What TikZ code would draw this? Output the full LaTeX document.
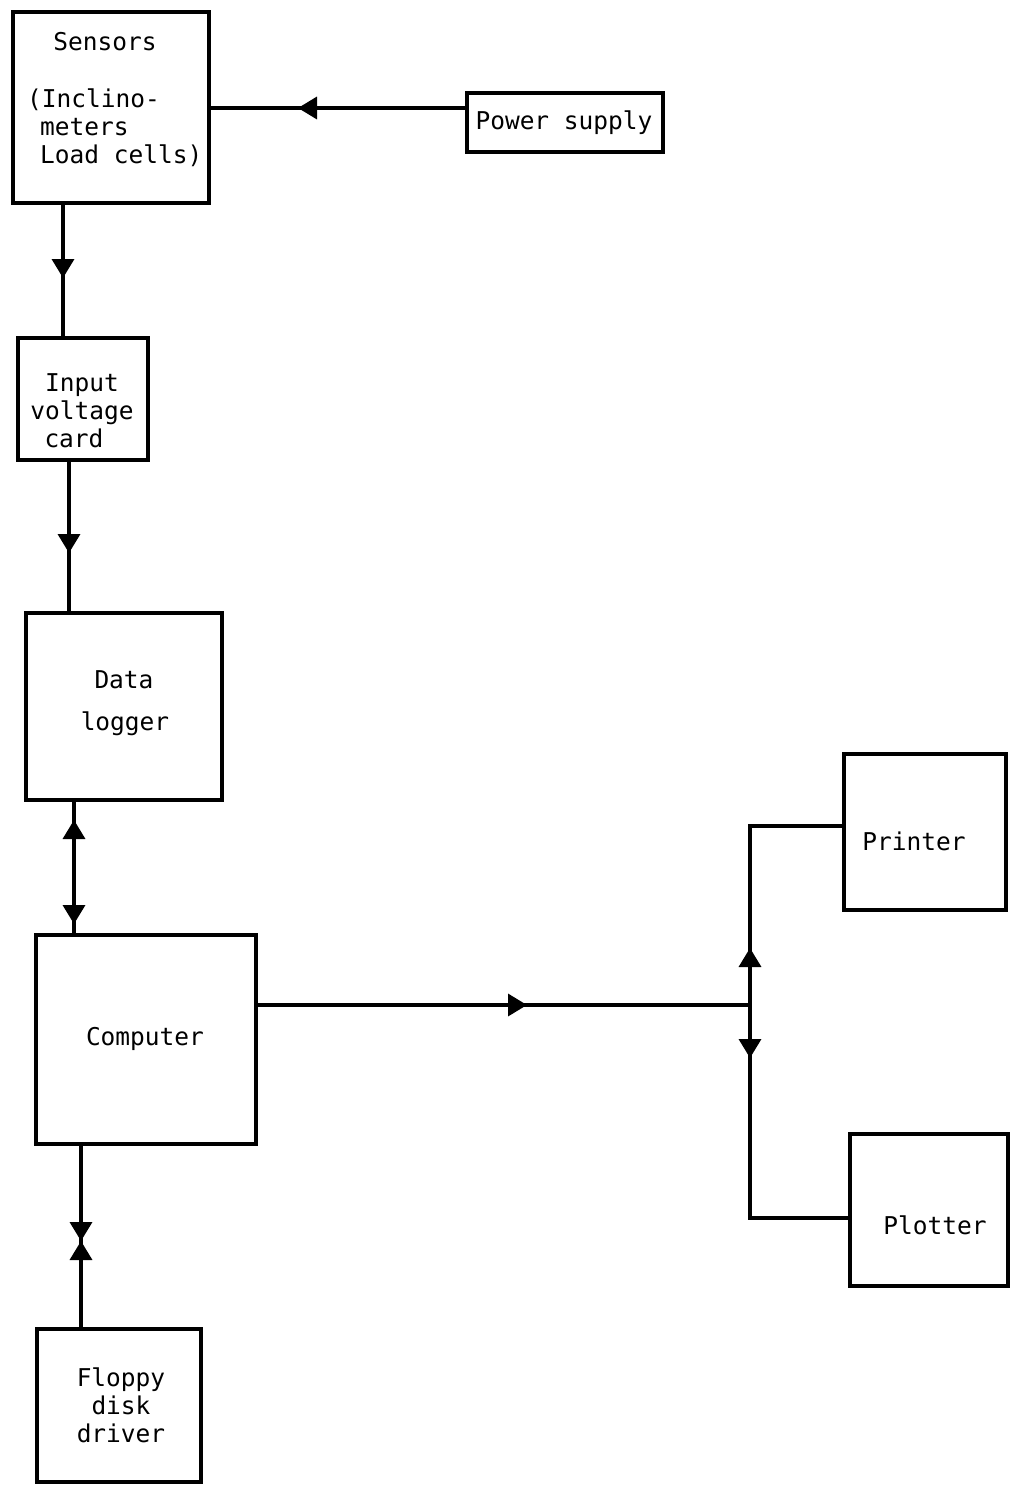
\documentclass[tikz,border=0pt]{standalone}
\usepackage{fontspec}
\setmonofont{DejaVu Sans Mono}
\usetikzlibrary{arrows.meta,decorations.markings}
\begin{document}
\begin{tikzpicture}[x=1pt,y=-1pt,
  >={Triangle[length=19pt,width=22pt]},
  box/.style 2 args={draw, line width=4pt, inner sep=0pt, minimum width=#1, minimum height=#2},
  lbl/.style={font=\ttfamily\fontsize{24.5}{28.5}\selectfont, inner sep=0pt, anchor=base},
  lblw/.style={lbl, anchor=base west},
  conn/.style={line width=3.5pt},
  fwdat/.style={postaction={decorate, decoration={markings, mark=at position #1 with {\arrow{>}}}}},
  revat/.style={postaction={decorate, decoration={markings, mark=at position #1 with {\arrowreversed{>}}}}}]
\useasboundingbox (0,0) rectangle (1013,1486);
% boxes
\node[box={196pt}{191pt}] (sensors) at (111,107.5) {};
\node[box={196pt}{59pt}] (power) at (565,122.5) {};
\node[box={130pt}{122pt}] (input) at (83,399) {};
\node[box={196pt}{187pt}] (data) at (124,706.5) {};
\node[box={220pt}{209pt}] (computer) at (146,1039.5) {};
\node[box={164pt}{153pt}] (floppy) at (119,1405.5) {};
\node[box={162pt}{156pt}] (printer) at (925,832) {};
\node[box={158pt}{152pt}] (plotter) at (929,1210) {};
% labels
\node[lbl] (tsens) at (105,50) {Sensors};
\node[lblw] (tincl) at (27,107) {(Inclino-};
\node[lblw] (tmet) at (40,135) {meters};
\node[lblw] (tload) at (40,163) {Load cells)};
\node[lbl] (tpow) at (564,129) {Power supply};
\node[lbl] (tin1) at (82,391) {Input};
\node[lbl] (tin2) at (82,419) {voltage};
\node[lbl] (tin3) at (74,447) {card};
\node[lbl] (tdat1) at (124,688) {Data};
\node[lbl] (tdat2) at (125,730) {logger};
\node[lbl] (tcomp) at (145,1045) {Computer};
\node[lbl] (tfl1) at (121,1386) {Floppy};
\node[lbl] (tfl2) at (121,1414) {disk};
\node[lbl] (tfl3) at (121,1442) {driver};
\node[lbl] (tprn) at (914,850) {Printer};
\node[lbl] (tplt) at (935,1234) {Plotter};
% connectors
\coordinate (ps) at ([yshift=14.5pt]power.west);
\draw[conn, fwdat=167pt] (ps) -- (ps -| sensors.east);
\coordinate (s1) at ([xshift=-48pt]sensors.south);
\draw[conn, fwdat=73pt] (s1) -- (s1 |- input.north);
\coordinate (i1) at ([xshift=-14pt]input.south);
\draw[conn, fwdat=91pt] (i1) -- (i1 |- data.north);
\coordinate (d1) at ([xshift=-50pt]data.south);
\draw[conn, revat=18pt, fwdat=122pt] (d1) -- (d1 |- computer.north);
\coordinate (c1) at ([xshift=-65pt]computer.south);
\draw[conn, fwdat=95pt, revat=95pt] (c1) -- (c1 |- floppy.north);
\coordinate (c2) at ([yshift=34.5pt]computer.east);
\coordinate (J) at (750,1005);
\draw[conn, fwdat=269pt] (c2) -- (J);
\draw[conn, fwdat=57pt] (J) |- ([yshift=6pt]printer.west);
\draw[conn, fwdat=53pt] (J) |- ([yshift=-8pt]plotter.west);
\end{tikzpicture}
\end{document}
